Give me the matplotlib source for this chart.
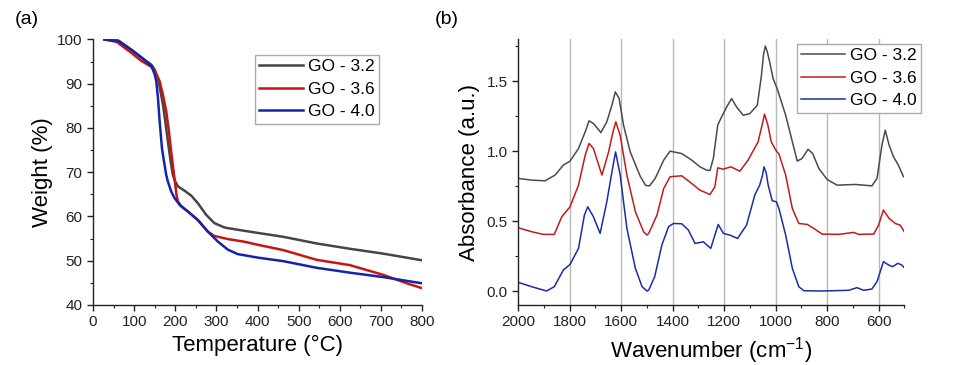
import numpy as np
import matplotlib
matplotlib.use('Agg')
import matplotlib.pyplot as plt
from matplotlib.ticker import MultipleLocator, FormatStrFormatter

plt.rcParams['font.family'] = ['Liberation Sans', 'DejaVu Sans']
plt.rcParams['mathtext.default'] = 'regular'

labels = ['GO - 3.2', 'GO - 3.6', 'GO - 4.0']

# TGA, (a)
t_32 = [28, 61, 93, 121, 142, 150, 158, 164, 170, 175.7, 182, 188.7, 194, 200, 206.5, 223, 239, 255, 275,
        295, 320, 352, 400, 463, 544, 625, 706, 800]
w_32 = [100, 99.8, 97.7, 95.7, 94.3, 93.2, 91.3, 88.3, 85.3, 81.5, 77, 72.5, 69.4, 67.9, 66.8, 65.8, 64.7,
        63, 60.4, 58.5, 57.5, 57, 56.3, 55.4, 53.9, 52.7, 51.6, 50.1]
t_36 = [28, 57, 93, 117, 142, 154, 162, 170, 178, 184.6, 190, 195, 200, 203, 206.5, 214.6, 231, 255, 279,
        295, 328, 368, 401, 463, 544, 625, 706, 763, 800]
w_36 = [100, 99.5, 97, 95.2, 93.8, 92.1, 90.6, 87.5, 83.8, 79.2, 74.7, 70.9, 67.2, 64.9, 63.4, 62.3, 61.1,
        59.2, 56.6, 55.6, 54.9, 54.3, 53.6, 52.4, 50.2, 49.0, 46.8, 44.9, 43.8]
t_40 = [28, 65, 93, 121, 142, 150, 153.8, 157.9, 162, 167.6, 172.5, 178, 182, 190, 198, 211, 231, 255, 279,
        304, 328, 352, 401, 463, 544, 625, 706, 800]
w_40 = [100, 99.5, 97.7, 95.7, 94, 92.1, 90.6, 86.8, 81.5, 75.5, 72.5, 69.4, 67.9, 65.7, 64.2, 62.6, 61.1,
        59.2, 56.6, 54.3, 52.5, 51.5, 50.7, 49.9, 48.4, 47.3, 46.3, 44.9]

# FTIR, (b)
wn_32 = [2000, 1948, 1896, 1857, 1825, 1799, 1766, 1740, 1725, 1708, 1679, 1656, 1636, 1623, 1608, 1591,
         1565, 1526, 1505, 1490, 1468, 1435, 1410, 1365, 1326, 1294, 1268, 1255, 1242, 1225, 1210, 1190,
         1171, 1152, 1126, 1100, 1071, 1055, 1047, 1040, 1033, 1023, 1010, 994, 961, 935, 916, 897, 874,
         856, 832, 800, 761, 690, 626, 606, 587, 574, 559, 542, 523, 503]
a_32 = [0.805, 0.793, 0.788, 0.829, 0.9, 0.929, 1.019, 1.138, 1.217, 1.198, 1.133, 1.21, 1.33, 1.424, 1.376,
        1.186, 0.995, 0.82, 0.755, 0.752, 0.805, 0.936, 1.0, 0.983, 0.936, 0.888, 0.864, 0.862, 0.948, 1.186,
        1.245, 1.317, 1.376, 1.317, 1.257, 1.269, 1.329, 1.543, 1.69, 1.752, 1.715, 1.638, 1.52, 1.448,
        1.257, 1.067, 0.929, 0.948, 1.014, 0.983, 0.876, 0.798, 0.757, 0.762, 0.752, 0.805, 1.043, 1.15,
        1.043, 0.96, 0.9, 0.817]
wn_36 = [2000, 1948, 1903, 1860, 1831, 1799, 1766, 1740, 1725, 1708, 1675, 1649, 1632, 1621, 1604, 1578,
         1545, 1513, 1500, 1493, 1461, 1435, 1410, 1365, 1326, 1294, 1255, 1236, 1225, 1204, 1174, 1139,
         1107, 1068, 1051, 1043, 1030, 1017, 997, 987, 961, 935, 910, 877, 852, 819, 755, 697, 677, 619,
         600, 581, 559, 535, 516, 500]
a_36 = [0.452, 0.424, 0.405, 0.405, 0.531, 0.602, 0.757, 0.971, 1.055, 1.019, 0.829, 0.995, 1.138, 1.21,
        1.114, 0.829, 0.567, 0.424, 0.4, 0.412, 0.543, 0.733, 0.817, 0.824, 0.769, 0.721, 0.69, 0.745, 0.881,
        0.871, 0.888, 0.857, 0.936, 1.067, 1.2, 1.265, 1.186, 1.067, 1.0, 0.98, 0.829, 0.59, 0.483, 0.476,
        0.448, 0.407, 0.405, 0.419, 0.405, 0.407, 0.471, 0.579, 0.519, 0.483, 0.471, 0.424]
wn_40 = [2000, 1948, 1890, 1860, 1825, 1799, 1766, 1743, 1730, 1708, 1682, 1656, 1636, 1622, 1604, 1578,
         1545, 1519, 1500, 1493, 1470, 1442, 1416, 1397, 1365, 1339, 1313, 1281, 1252, 1236, 1223, 1203,
         1178, 1148, 1113, 1081, 1062, 1052, 1045, 1036, 1029, 1013, 997, 987, 961, 935, 910, 890, 819, 716,
         684, 658, 626, 606, 581, 561, 546, 525, 510, 500]
a_40 = [0.062, 0.031, 0.0, 0.031, 0.15, 0.19, 0.305, 0.543, 0.602, 0.531, 0.412, 0.638, 0.852, 0.995,
        0.829, 0.448, 0.162, 0.031, 0.0, 0.007, 0.102, 0.329, 0.46, 0.483, 0.481, 0.436, 0.34, 0.352, 0.305,
        0.4, 0.476, 0.412, 0.4, 0.376, 0.471, 0.686, 0.757, 0.82, 0.888, 0.84, 0.757, 0.645, 0.638, 0.59,
        0.4, 0.162, 0.031, 0.002, 0.0, 0.005, 0.024, 0.005, 0.014, 0.067, 0.21, 0.186, 0.174, 0.198, 0.186,
        0.167]

grid_wn = [1800, 1600, 1400, 1200, 1000, 800, 600]

cols_a = ['#454545', '#c81414', '#1424aa']
cols_b = ['#4a4a4a', '#c01c1c', '#1c2ca6']

fig = plt.figure(figsize=(9.55, 3.65), dpi=100)
ax1 = fig.add_axes([0.0974, 0.1644, 0.3445, 0.7274])
ax2 = fig.add_axes([0.5427, 0.1644, 0.4042, 0.7279])


def style(ax):
    for s in ['top', 'right']:
        ax.spines[s].set_visible(False)
    for s in ['left', 'bottom']:
        ax.spines[s].set_linewidth(1.0)
        ax.spines[s].set_color('#222222')
    ax.tick_params(which='major', direction='out', length=4, width=1, labelsize=11, colors='#222222')
    ax.tick_params(which='minor', direction='out', length=2.5, width=0.8, colors='#222222')


def add_legend(ax, x0, y0):
    # legend box placed by its top-left corner in figure pixels
    return ax.legend(loc='upper left', bbox_to_anchor=(x0 / 955, 1 - y0 / 365), bbox_transform=fig.transFigure,
                     fontsize=12.5, frameon=True, fancybox=False, edgecolor='#aaaaaa', framealpha=1,
                     handlelength=2.5, handletextpad=0.3, borderpad=0.25, labelspacing=0.42, borderaxespad=0)


for t, w, c, lb in zip([t_32, t_36, t_40], [w_32, w_36, w_40], cols_a, labels):
    ax1.plot(t, w, color=c, lw=1.8, label=lb)
ax1.set_xlim(0, 800)
ax1.set_ylim(40, 100)
ax1.xaxis.set_major_locator(MultipleLocator(100))
ax1.xaxis.set_minor_locator(MultipleLocator(50))
ax1.yaxis.set_major_locator(MultipleLocator(10))
ax1.yaxis.set_minor_locator(MultipleLocator(5))
style(ax1)
ax1.set_xlabel('Temperature (°C)', fontsize=16, labelpad=4)
ax1.set_ylabel('Weight (%)', fontsize=16, labelpad=3)
add_legend(ax1, 255, 55)

for x in grid_wn:
    ax2.axvline(x, color='#b8b8b8', lw=1.0, zorder=0)
for wn, a, c, lb in zip([wn_32, wn_36, wn_40], [a_32, a_36, a_40], cols_b, labels):
    ax2.plot(wn, a, color=c, lw=1.1, label=lb)
ax2.set_xlim(2000, 500)
ax2.set_ylim(-0.1, 1.8)
ax2.xaxis.set_major_locator(MultipleLocator(200))
ax2.xaxis.set_minor_locator(MultipleLocator(100))
ax2.yaxis.set_major_locator(MultipleLocator(0.5))
ax2.yaxis.set_minor_locator(MultipleLocator(0.25))
ax2.yaxis.set_major_formatter(FormatStrFormatter('%.1f'))
style(ax2)
ax2.set_xlabel('Wavenumber (cm$^{-1}$)', fontsize=16, labelpad=4)
ax2.set_ylabel('Absorbance (a.u.)', fontsize=16, labelpad=5)
add_legend(ax2, 797, 44)

fig.text(15 / 955, 1 - 20 / 365, '(a)', fontsize=14, va='center', ha='left')
fig.text(435 / 955, 1 - 20 / 365, '(b)', fontsize=14, va='center', ha='left')

fig.savefig('out.png', dpi=100)
